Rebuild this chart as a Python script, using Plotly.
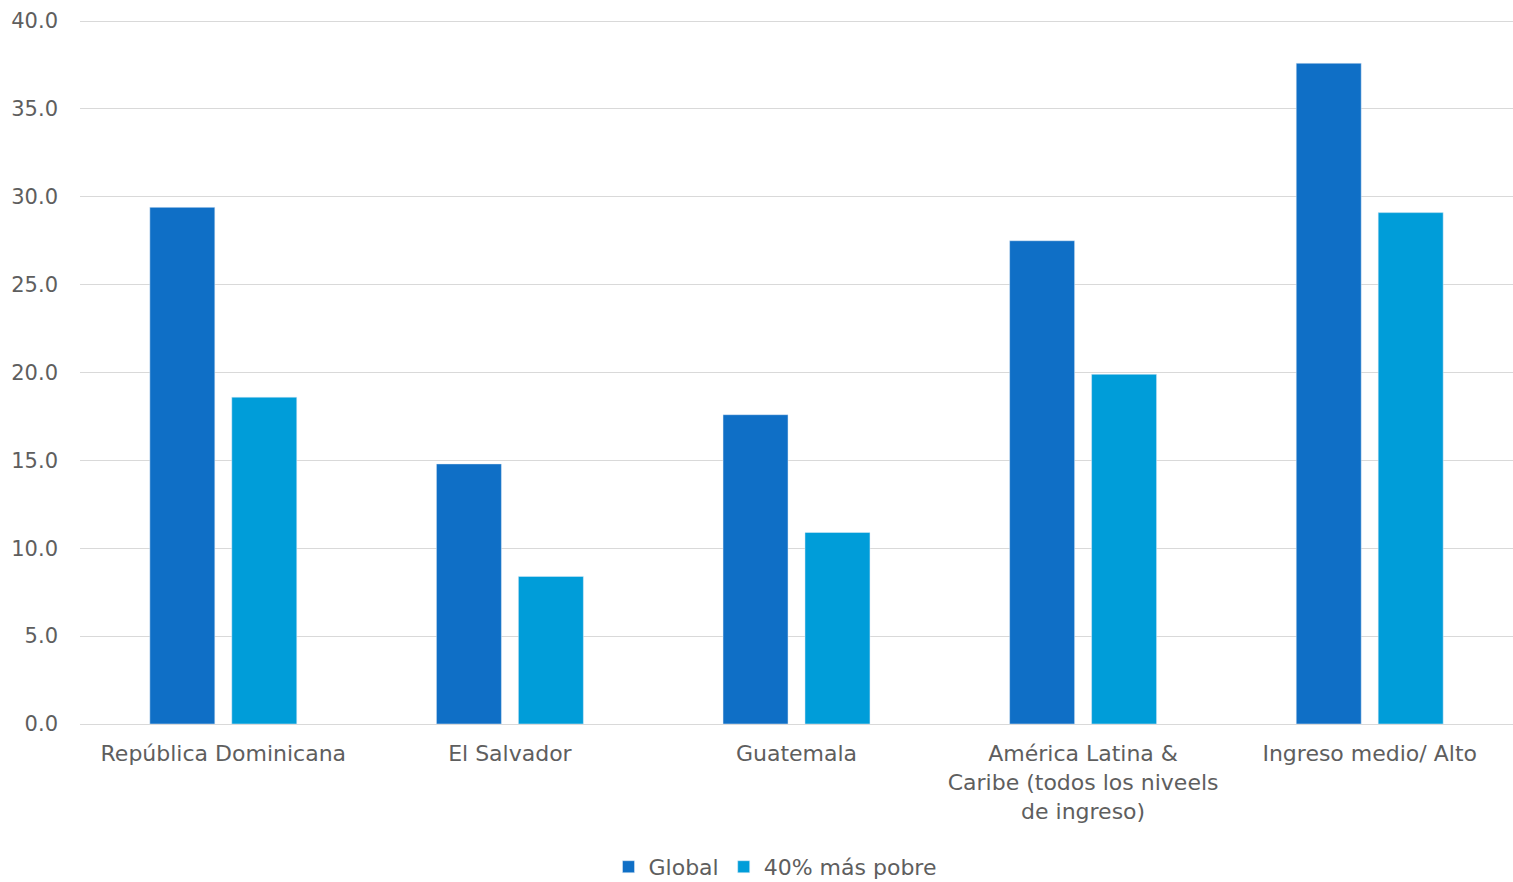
import plotly.graph_objects as go

categories = ["República Dominicana", "El Salvador", "Guatemala",
              "América Latina &<br>Caribe (todos los niveels<br>de ingreso)", "Ingreso medio/ Alto"]
global_vals = [29.4, 14.8, 17.6, 27.5, 37.6]
poor_vals = [18.6, 8.4, 10.9, 19.9, 29.1]
tick_vals = [0, 5, 10, 15, 20, 25, 30, 35, 40]
tick_text = [f"{v:.1f}" for v in tick_vals]

FONT = "DejaVu Sans"
GRAY = "#5e5e5e"

fig = go.Figure()
fig.add_trace(go.Bar(name="Global", x=categories, y=global_vals, marker_color="#0F6FC6"))
fig.add_trace(go.Bar(name="40% más pobre", x=categories, y=poor_vals, marker_color="#009DD9"))

fig.update_layout(
    width=1513, height=882,
    margin=dict(l=80, r=0, t=20, b=158, autoexpand=False),
    plot_bgcolor="white", paper_bgcolor="white",
    barmode="group", bargap=0.428, bargroupgap=0.207,
    font=dict(family=FONT, size=22, color=GRAY),
    legend=dict(orientation="h", x=0.485, xanchor="center", y=-0.203, yanchor="middle",
                font=dict(size=22, color=GRAY), itemwidth=30, traceorder="normal"),
    xaxis=dict(showline=True, linecolor="#D9D9D9", linewidth=1, ticks="",
               tickfont=dict(size=22, color=GRAY), ticklabelstandoff=10),
    yaxis=dict(range=[0, 40.06], tickvals=tick_vals, ticktext=tick_text,
               showgrid=True, gridcolor="#D9D9D9", gridwidth=1, zeroline=False,
               tickfont=dict(size=21, color=GRAY), ticklabelstandoff=21),
)

fig.write_html("out.html", config={"displayModeBar": False},
               post_script="document.body.style.margin='0';")
